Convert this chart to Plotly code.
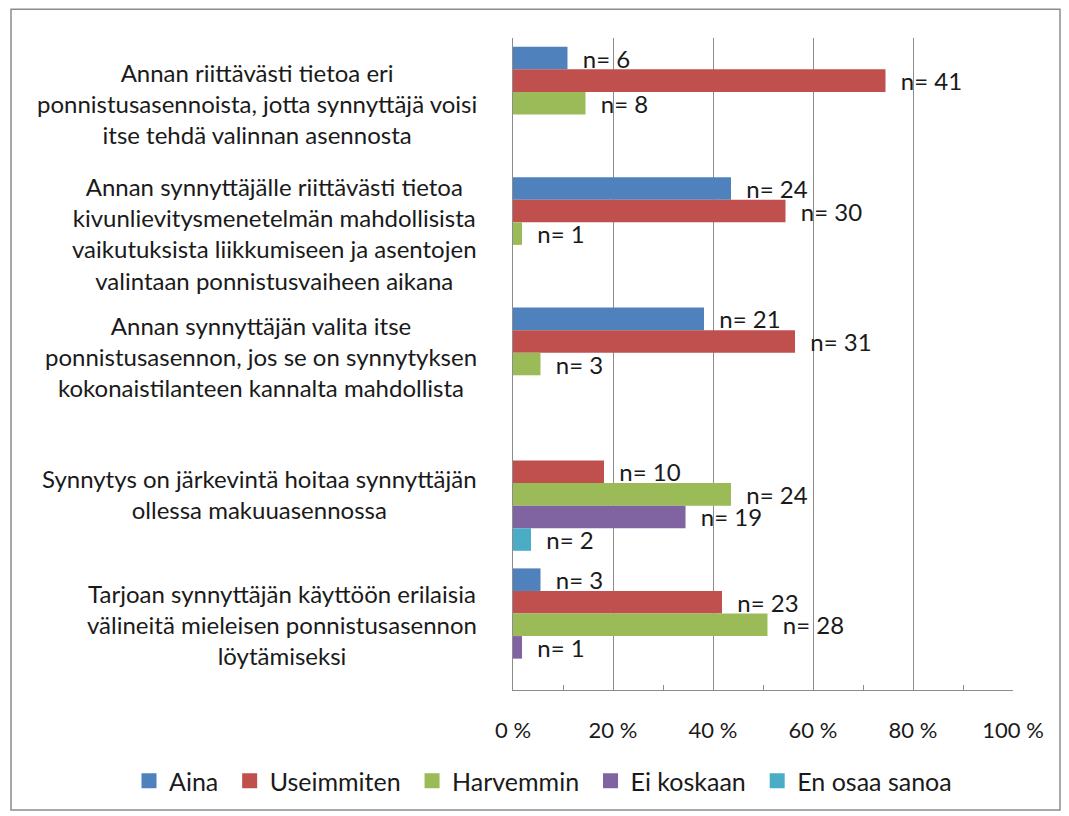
"""
Grouped horizontal bar chart: synnytysasennot (n = 55)
"""
import plotly.graph_objects as go

# category labels (top to bottom), with the line breaks of the original
categories = [
    "Annan riittävästi tietoa eri<br>ponnistusasennoista, jotta synnyttäjä voisi<br>itse tehdä valinnan asennosta",
    "Annan synnyttäjälle riittävästi tietoa<br>kivunlievitysmenetelmän mahdollisista<br>vaikutuksista liikkumiseen ja asentojen<br>valintaan ponnistusvaiheen aikana",
    "Annan synnyttäjän valita itse<br>ponnistusasennon, jos se on synnytyksen<br>kokonaistilanteen kannalta mahdollista",
    "Synnytys on järkevintä hoitaa synnyttäjän<br>ollessa makuuasennossa",
    "Tarjoan synnyttäjän käyttöön erilaisia<br>välineitä mieleisen ponnistusasennon<br>löytämiseksi",
]

series_names = ["Aina", "Useimmiten", "Harvemmin", "Ei koskaan", "En osaa sanoa"]
colors = ["#4F81BD", "#C0504D", "#9BBB59", "#8064A2", "#4BACC6"]

# percent shares (None = no bar)
aina_pct = [10.9, 43.6, 38.2, None, 5.5]
useimmiten_pct = [74.5, 54.5, 56.4, 18.2, 41.8]
harvemmin_pct = [14.5, 1.8, 5.5, 43.6, 50.9]
ei_koskaan_pct = [None, None, None, 34.5, 1.8]
en_osaa_pct = [None, None, None, 3.6, None]

# counts shown in the labels
aina_n = [6, 24, 21, None, 3]
useimmiten_n = [41, 30, 31, 10, 23]
harvemmin_n = [8, 1, 3, 24, 28]
ei_koskaan_n = [None, None, None, 19, 1]
en_osaa_n = [None, None, None, 2, None]

pct_values = [aina_pct, useimmiten_pct, harvemmin_pct, ei_koskaan_pct, en_osaa_pct]
n_values = [aina_n, useimmiten_n, harvemmin_n, ei_koskaan_n, en_osaa_n]

tick_vals = [0, 20, 40, 60, 80, 100]
tick_text = ["0 %", "20 %", "40 %", "60 %", "80 %", "100 %"]

FONT = "Lato, Calibri, 'Open Sans', sans-serif"
TEXT_COLOR = "#1a1a1a"
GRID = "#8c8c8c"

# the page body has an 8px margin, so the figure is drawn 8px smaller
W, H = 1061, 808

fig = go.Figure()
y_ids = list(range(len(categories)))

for name, color, pct, counts in zip(series_names, colors, pct_values, n_values):
    labels = ["\u00a0\u00a0n= %d" % c if c is not None else "" for c in counts]
    fig.add_trace(go.Bar(
        name=name,
        orientation="h",
        y=y_ids,
        x=pct,
        marker=dict(color=color, line=dict(width=0)),
        text=labels,
        textposition="outside",
        constraintext="none",
        cliponaxis=False,
        textfont=dict(family=FONT, size=24, color=TEXT_COLOR),
        showlegend=False,
    ))

# legend entries with larger square swatches (no data drawn)
for name, color in zip(series_names, colors):
    fig.add_trace(go.Scatter(
        name=name + "\u00a0", x=[None], y=[None], mode="markers",
        marker=dict(symbol="square", size=15, color=color),
        showlegend=True, hoverinfo="skip",
    ))

# category labels as centred multi-line annotations
# (the third label sits a little higher in the original)
for i, cat in enumerate(categories):
    fig.add_annotation(
        x=0, xref="paper", y=i, yref="y",
        text=cat, showarrow=False,
        xanchor="right", yanchor="middle", align="center",
        xshift=-34, yshift=8 if i == 2 else 0,
        font=dict(family=FONT, size=24, color=TEXT_COLOR),
    )

# outer chart border
fig.add_shape(
    type="rect", xref="paper", yref="paper",
    x0=-1.004, x1=1.094, y0=-0.184, y1=1.044,
    line=dict(color="#8c8c8c", width=1.5),
)

fig.update_layout(
    width=W, height=H,
    margin=dict(l=505, r=56, t=30, b=126, autoexpand=False),
    paper_bgcolor="white",
    plot_bgcolor="white",
    barmode="group",
    bargap=0.135,
    bargroupgap=0,
    showlegend=True,
    legend=dict(
        orientation="h",
        x=-0.768, y=(682 - 773) / 652, xanchor="left", yanchor="middle",
        font=dict(family=FONT, size=25, color=TEXT_COLOR),
        itemwidth=30,
        tracegroupgap=0,
        bgcolor="rgba(0,0,0,0)",
    ),
    font=dict(family=FONT, size=22, color=TEXT_COLOR),
)

fig.update_xaxes(
    range=[0, 100],
    tickvals=tick_vals,
    ticktext=tick_text,
    showgrid=True, gridcolor=GRID, gridwidth=1,
    showline=True, linecolor=GRID, linewidth=1,
    ticks="inside", ticklen=5, tickcolor=GRID,
    minor=dict(tickvals=[10, 30, 50, 70, 90], ticks="inside", ticklen=5, tickcolor=GRID, showgrid=False),
    ticklabelstandoff=21,
    tickfont=dict(family=FONT, size=22, color=TEXT_COLOR),
    zeroline=False,
    mirror=False,
)

fig.update_yaxes(
    autorange="reversed",
    showticklabels=False,
    showgrid=False,
    showline=True, linecolor=GRID, linewidth=1,
    ticks="",
    zeroline=False,
)

fig.write_html("out.html")
